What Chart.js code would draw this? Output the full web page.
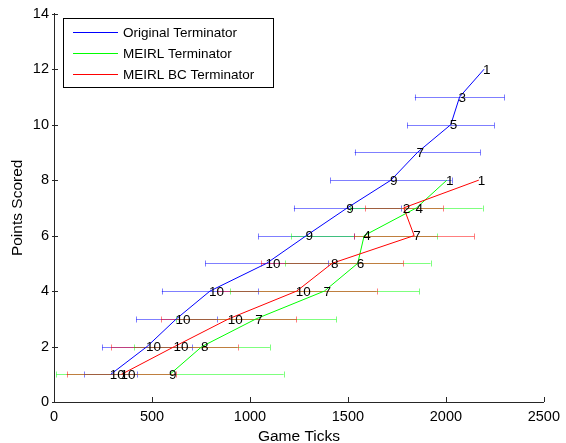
<!DOCTYPE html>
<html>
<head>
<meta charset="utf-8">
<script src="https://cdn.jsdelivr.net/npm/chart.js@4"></script>
<style>
html,body{margin:0;padding:0;background:#fff;}
canvas{display:block;}
</style>
</head>
<body>
<canvas id="c" width="566" height="443"></canvas>
<script>
// ---- data ----
const seriesNames = ["Original Terminator", "MEIRL Terminator", "MEIRL BC Terminator"];
const seriesColors = ["#0000ff", "#00ff00", "#ff0000"];
const errColors = ["rgba(0,0,255,0.5)", "rgba(0,255,0,0.5)", "rgba(255,0,0,0.5)"];

const blueY   = [1, 2, 3, 4, 5, 6, 7, 8, 9, 10, 11, 12];
const blueX   = [290, 475, 625, 796, 1085, 1288, 1497, 1720, 1855, 2025, 2070, 2195];
const blueErr = [135, 229, 205, 246, 313, 245, 273, 309, 321, 222, 229, 0];
const blueN   = [10, 10, 10, 10, 10, 9, 9, 9, 7, 5, 3, 1];

const greenY   = [1, 2, 3, 4, 5, 6, 7, 8];
const greenX   = [592, 755, 1032, 1380, 1550, 1583, 1850, 2005];
const greenErr = [580, 347, 409, 484, 372, 371, 337, 0];
const greenN   = [9, 8, 7, 7, 6, 4, 4, 1];

const redY   = [1, 2, 3, 4, 5, 6, 7, 8];
const redX   = [345, 615, 892, 1239, 1419, 1838, 1785, 2168];
const redErr = [280, 322, 345, 407, 362, 307, 199, 0];
const redN   = [10, 10, 10, 10, 8, 7, 2, 1];

const xTicks = [0, 500, 1000, 1500, 2000, 2500];
const yTicks = [0, 2, 4, 6, 8, 10, 12, 14];
const xTitle = "Game Ticks";
const yTitle = "Points Scored";

const FONT = "'Liberation Sans', Arial, Helvetica, sans-serif";

const allX = [blueX, greenX, redX];
const allY = [blueY, greenY, redY];
const allErr = [blueErr, greenErr, redErr];
const allN = [blueN, greenN, redN];

const datasets = seriesNames.map((name, i) => ({
  label: name,
  data: allX[i].map((x, j) => ({x: x, y: allY[i][j]})),
  showLine: true,
  borderColor: seriesColors[i],
  backgroundColor: seriesColors[i],
  borderWidth: 1,
  pointRadius: 0,
  pointHoverRadius: 0,
  tension: 0,
  order: 2 - i
}));

const errorBarPlugin = {
  id: 'errbars',
  beforeDatasetsDraw(chart) {
    const ctx = chart.ctx, xs = chart.scales.x, ys = chart.scales.y;
    ctx.save();
    ctx.lineWidth = 1;
    for (let i = 0; i < 3; i++) {
      ctx.strokeStyle = errColors[i];
      allX[i].forEach((x, j) => {
        const e = allErr[i][j];
        if (!e) return;
        const py = Math.round(ys.getPixelForValue(allY[i][j])) + 0.5;
        const x1 = xs.getPixelForValue(x - e), x2 = xs.getPixelForValue(x + e);
        const l = Math.max(x1, chart.chartArea.left);
        ctx.beginPath();
        ctx.moveTo(l, py); ctx.lineTo(x2, py);
        if (x1 >= chart.chartArea.left) { ctx.moveTo(Math.round(x1) + 0.5, py - 3); ctx.lineTo(Math.round(x1) + 0.5, py + 3); }
        ctx.moveTo(Math.round(x2) + 0.5, py - 3); ctx.lineTo(Math.round(x2) + 0.5, py + 3);
        ctx.stroke();
      });
    }
    ctx.restore();
  },
  afterDatasetsDraw(chart) {
    const ctx = chart.ctx, xs = chart.scales.x, ys = chart.scales.y;
    ctx.save();
    ctx.font = "13.5px " + FONT;
    ctx.fillStyle = "#000";
    ctx.textAlign = "left";
    ctx.textBaseline = "middle";
    for (let i = 0; i < 3; i++) {
      allX[i].forEach((x, j) => {
        ctx.fillText(String(allN[i][j]), xs.getPixelForValue(x) - 1, ys.getPixelForValue(allY[i][j]) + 1);
      });
    }
    ctx.restore();
  },
  afterDraw(chart) {
    const ctx = chart.ctx, xs = chart.scales.x, ys = chart.scales.y, a = chart.chartArea;
    ctx.save();
    ctx.strokeStyle = "#262626";
    ctx.lineWidth = 1;
    ctx.beginPath();
    xTicks.forEach(t => {
      const px = Math.round(xs.getPixelForValue(t)) + 0.5;
      ctx.moveTo(px, a.bottom); ctx.lineTo(px, a.bottom - 5);
    });
    yTicks.forEach(t => {
      const py = Math.round(ys.getPixelForValue(t)) + 0.5;
      ctx.moveTo(a.left - 2, py); ctx.lineTo(a.left + 4, py);
    });
    ctx.stroke();
    // legend
    const lx = 63.5, ly = 18.5, lw = 210, lh = 69;
    ctx.fillStyle = "#fff";
    ctx.fillRect(lx, ly, lw, lh);
    ctx.strokeStyle = "#000";
    ctx.strokeRect(lx, ly, lw, lh);
    ctx.font = "13.5px " + FONT;
    ctx.textBaseline = "middle";
    ctx.textAlign = "left";
    seriesNames.forEach((n, i) => {
      const yy = 32 + i * 21;
      ctx.fillStyle = seriesColors[i];
      ctx.fillRect(73, yy, 45, 1);
      ctx.fillStyle = "#000";
      ctx.fillText(n, 123, yy + 1);
    });
    ctx.restore();
  }
};

new Chart(document.getElementById('c'), {
  type: 'scatter',
  data: { datasets: datasets },
  options: {
    responsive: false,
    animation: false,
    events: [],
    layout: { padding: { top: 13, right: 17, left: 0, bottom: 0 } },
    plugins: { legend: { display: false }, tooltip: { enabled: false } },
    scales: {
      x: {
        type: 'linear', min: 0, max: 2500,
        afterBuildTicks(s) { s.ticks = xTicks.map(v => ({value: v})); },
        afterFit(s) { s.height = 41; },
        grid: { display: false, drawTicks: false },
        border: { display: true, color: "#262626", width: 1 },
        ticks: { color: "#000", font: { family: FONT, size: 14.5 }, padding: 6, maxRotation: 0, callback: v => String(v) },
        title: { display: true, text: xTitle, color: "#000", font: { family: FONT, size: 15.5, lineHeight: 1 }, padding: { top: 0, bottom: -1 } }
      },
      y: {
        type: 'linear', min: 0, max: 14,
        afterBuildTicks(s) { s.ticks = yTicks.map(v => ({value: v})); },
        afterFit(s) { s.width = 54; },
        grid: { display: false, drawTicks: false },
        border: { display: true, color: "#262626", width: 1 },
        ticks: { color: "#000", font: { family: FONT, size: 14.5 }, padding: 5, callback: v => String(v) },
        title: { display: true, text: yTitle, color: "#000", font: { family: FONT, size: 15.5, lineHeight: 1 }, padding: { top: 10, bottom: 0 } }
      }
    }
  },
  plugins: [errorBarPlugin]
});
</script>
</body>
</html>
